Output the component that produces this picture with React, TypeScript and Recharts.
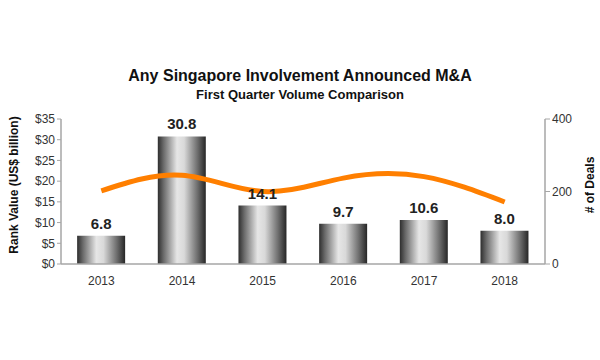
import { Bar, ComposedChart, LabelList, Line, XAxis, YAxis } from 'recharts'

const YEARS = ['2013', '2014', '2015', '2016', '2017', '2018']
const RANK_VALUE = [6.8, 30.8, 14.1, 9.7, 10.6, 8.0]
const DEALS = [202, 245, 200, 237, 241, 171]
const VALUE_TICKS = [0, 5, 10, 15, 20, 25, 30, 35]
const DEAL_TICKS = [0, 200, 400]

const FONT = '"Liberation Sans", Arial, sans-serif'
const AXIS_GREY = '#a6a6a6'
const TEXT = '#333333'

const data = YEARS.map((year, i) => ({ year, value: RANK_VALUE[i], deals: DEALS[i] }))

export default function App() {
  return (
    <div style={{ position: 'absolute', left: 0, top: 0, width: 600, height: 360, background: '#fff', fontFamily: FONT }}>
      <div style={{ position: 'absolute', top: 67, left: 0, width: 600, textAlign: 'center', fontSize: 16, fontWeight: 'bold', color: '#111' }}>
        Any Singapore Involvement Announced M&amp;A
      </div>
      <div style={{ position: 'absolute', top: 87, left: 0, width: 600, textAlign: 'center', fontSize: 13, fontWeight: 'bold', color: '#111' }}>
        First Quarter Volume Comparison
      </div>
      <div
        style={{
          position: 'absolute', left: 14, top: 185, width: 200, marginLeft: -100, textAlign: 'center',
          transform: 'translateY(-50%) rotate(-90deg)', fontSize: 12, fontWeight: 'bold', color: '#111',
        }}
      >
        Rank Value (US$ billion)
      </div>
      <div
        style={{
          position: 'absolute', left: 590, top: 185, width: 100, marginLeft: -50, textAlign: 'center',
          transform: 'translateY(-50%) rotate(-90deg)', fontSize: 12, fontWeight: 'bold', color: '#111',
        }}
      >
        # of Deals
      </div>
      <ComposedChart
        width={600}
        height={360}
        data={data}
        margin={{ top: 119, right: 0, left: 0, bottom: 66 }}
        barCategoryGap="20%"
        style={{ position: 'absolute', left: 0, top: 0 }}
      >
        <defs>
          <linearGradient id="barGrad" x1="0" y1="0" x2="1" y2="0">
            <stop offset="0%" stopColor="#2e2e2e" />
            <stop offset="12%" stopColor="#6a6a6a" />
            <stop offset="40%" stopColor="#e6e6e6" />
            <stop offset="55%" stopColor="#d9d9d9" />
            <stop offset="82%" stopColor="#707070" />
            <stop offset="100%" stopColor="#262626" />
          </linearGradient>
        </defs>
        <XAxis
          dataKey="year"
          xAxisId="cat"
          axisLine={{ stroke: AXIS_GREY, strokeWidth: 1.5 }}
          tickLine={false}
          tick={{ fontSize: 12, fill: TEXT, fontFamily: FONT }}
          tickMargin={6}
          height={30}
        />
        <XAxis
          xAxisId="grid"
          type="number"
          domain={[0, 6]}
          ticks={[0, 1, 2, 3, 4, 5, 6]}
          hide={false}
          axisLine={false}
          tickLine={{ stroke: AXIS_GREY }}
          tickSize={4}
          tick={false}
          height={0}
          allowDataOverflow
        />
        <YAxis
          yAxisId="left"
          domain={[0, 35]}
          ticks={VALUE_TICKS}
          tickFormatter={(v) => `$${v}`}
          width={61}
          axisLine={{ stroke: AXIS_GREY, strokeWidth: 1.5 }}
          tickLine={{ stroke: AXIS_GREY }}
          tickSize={4}
          tick={{ fontSize: 12, fill: TEXT, fontFamily: FONT }}
          interval={0}
        />
        <YAxis
          yAxisId="right"
          orientation="right"
          domain={[0, 400]}
          ticks={DEAL_TICKS}
          width={55}
          axisLine={{ stroke: AXIS_GREY, strokeWidth: 1.5 }}
          tickLine={{ stroke: AXIS_GREY }}
          tickSize={5}
          tick={{ fontSize: 12, fill: TEXT, fontFamily: FONT }}
          interval={0}
        />
        <Bar dataKey="value" xAxisId="cat" yAxisId="left" fill="url(#barGrad)" isAnimationActive={false}>
          <LabelList
            dataKey="value"
            position="top"
            offset={7}
            formatter={(v: number) => v.toFixed(1)}
            style={{ fontSize: 15, fontWeight: 'bold', fill: '#222', fontFamily: FONT }}
          />
        </Bar>
        <Line
          dataKey="deals"
          xAxisId="cat"
          yAxisId="right"
          type="natural"
          stroke="#ff7f00"
          strokeWidth={5}
          dot={false}
          activeDot={false}
          isAnimationActive={false}
        />
      </ComposedChart>
    </div>
  )
}
